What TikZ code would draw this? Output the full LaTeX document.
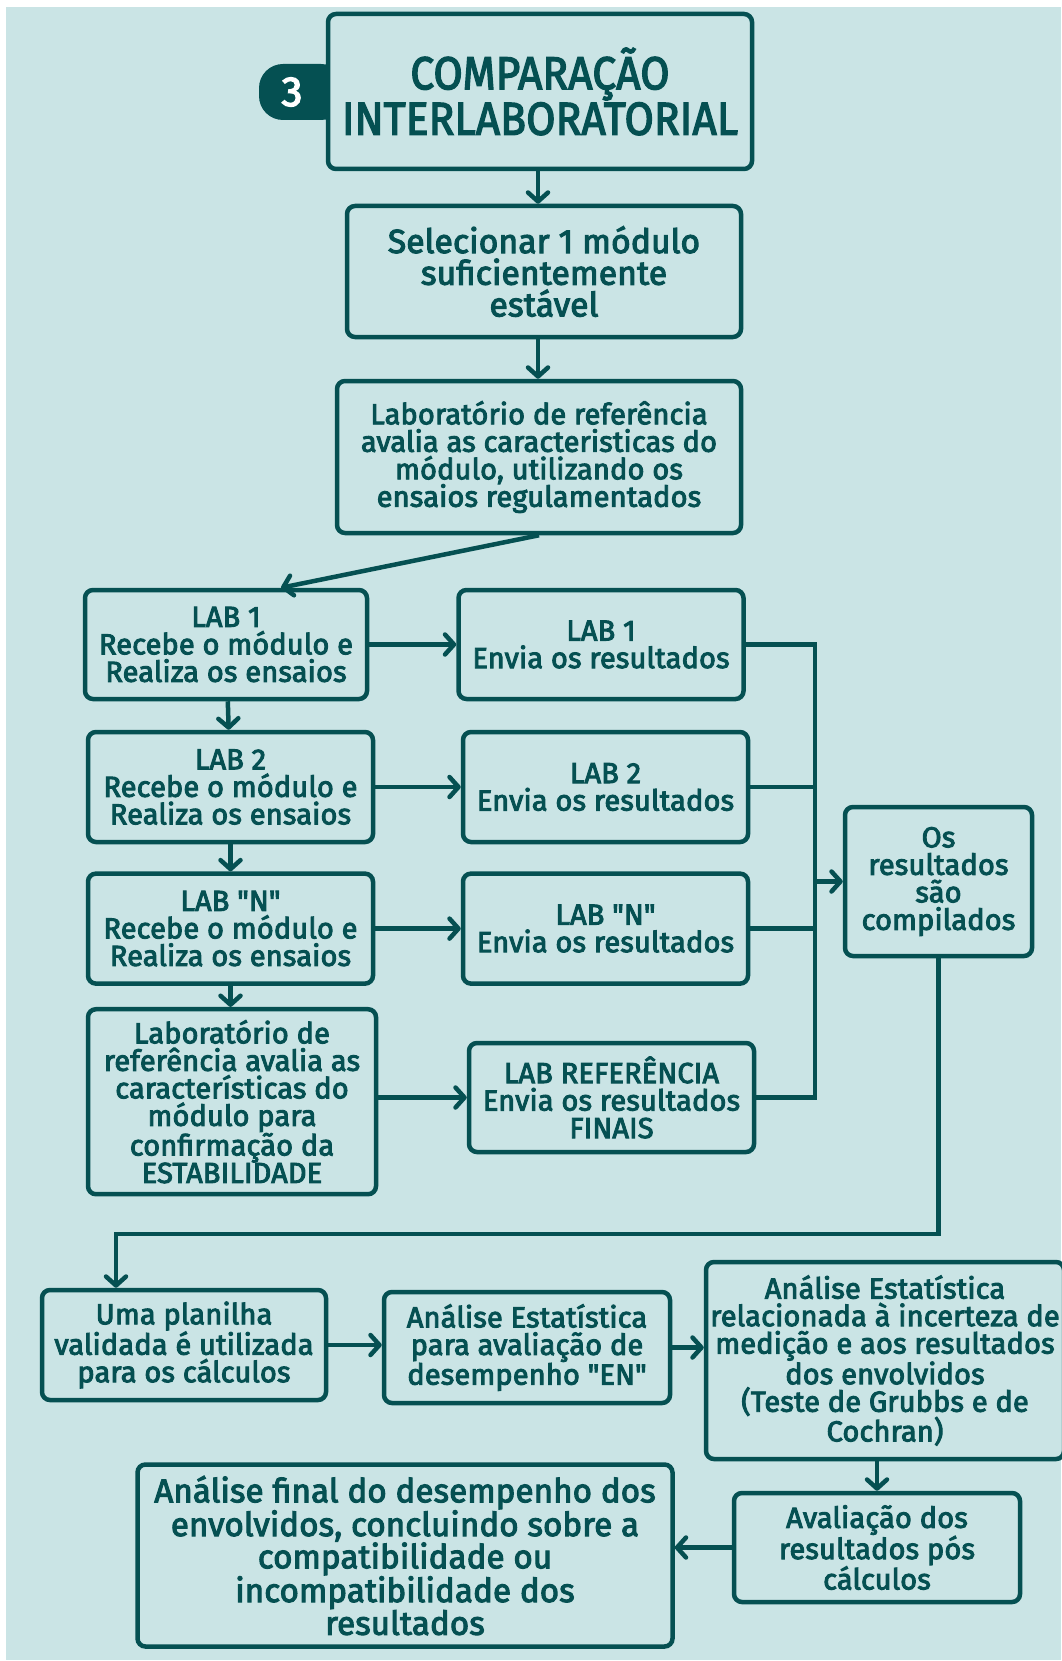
\documentclass[tikz,border=0pt]{standalone}
\usepackage{fontspec}
\setmainfont{Fira Sans}[Ligatures=TeXOff, BoldFont={Fira Sans}, BoldFeatures={FakeBold=3.2, LetterSpace=0.5}]
\usetikzlibrary{arrows.meta}
\definecolor{bgc}{RGB}{202,228,229}
\definecolor{dk}{RGB}{5,80,82}
\tikzset{
  box/.style={draw=dk, line width=4.5pt, rounded corners=8pt, fill=bgc,
    align=center, inner sep=0pt, text=dk,
    font=\fontsize{29}{27.5}\selectfont\bfseries},
  bigtext/.style={font=\fontsize{33.5}{31.7}\selectfont\bfseries},
  link/.style={draw=dk, line width=4.5pt},
  arr/.style={link, -{Straight Barb[length=9pt,width=20pt,line cap=round,line join=round]}},
}
\begin{document}
\begin{tikzpicture}[x=1pt,y=-1pt]
\useasboundingbox (0,0) rectangle (1061,1661);
\fill[white] (0,0) rectangle (1061,1661);
\fill[bgc] (6,7) rectangle (1061,1660);

% badge with the step number
\fill[dk, rounded corners=24pt] (259,64) rectangle (345,120);
\node[text=white, font=\fontsize{42}{42}\selectfont\bfseries] (num) at (292,92) {3};

% title
\node[box, minimum width=424pt, minimum height=155pt,
  font=\fontsize{46}{45.5}\selectfont\bfseries] (title) at (540,91.5)
  {\scalebox{0.92}[1]{COMPARAÇÃO}\\\scalebox{0.92}[1]{INTERLABORATORIAL}};

\node[box, bigtext, minimum width=394pt, minimum height=131pt] (sel) at (544,271.5)
  {Selecionar 1 módulo\\suficientemente\\estável};
\node[box, minimum width=404pt, minimum height=152pt] (ref3) at (539,457)
  {Laboratório de referência\\avalia as caracteristicas do\\módulo, utilizando os\\ensaios regulamentados};

% laboratories
\node[box, minimum width=282pt, minimum height=109pt] (lab1) at (226,644.5)
  {LAB 1\\Recebe o módulo e\\Realiza os ensaios};
\node[box, minimum width=285pt, minimum height=109pt] (lab1e) at (601,644.5)
  {LAB 1\\Envia os resultados};
\node[box, minimum width=285pt, minimum height=110pt] (lab2) at (230.5,787)
  {LAB 2\\Recebe o módulo e\\Realiza os ensaios};
\node[box, minimum width=285pt, minimum height=110pt] (lab2e) at (605.5,787)
  {LAB 2\\Envia os resultados};
\node[box, minimum width=285pt, minimum height=110pt] (labn) at (230.5,928.6)
  {LAB "N"\\Recebe o módulo e\\Realiza os ensaios};
\node[box, minimum width=285pt, minimum height=110pt] (labne) at (605.5,928.6)
  {LAB "N"\\Envia os resultados};
\node[box, minimum width=288pt, minimum height=185pt] (refs) at (232,1101.7)
  {Laboratório de\\referência avalia as\\características do\\módulo para\\confirmação da\\ESTABILIDADE};
\node[box, minimum width=285pt, minimum height=109pt] (refe) at (611.5,1097.5)
  {LAB REFERÊNCIA\\Envia os resultados\\FINAIS};
\node[box, minimum width=187pt, minimum height=149pt] (comp) at (938.5,881.5)
  {Os\\resultados\\são\\compilados};

% analysis
\node[box, minimum width=284pt, minimum height=110pt] (plan) at (184,1345)
  {Uma planilha\\validada é utilizada\\para os cálculos};
\node[box, minimum width=286pt, minimum height=111pt] (en) at (527,1347.5)
  {Análise Estatística\\para avaliação de\\desempenho "EN"};
\node[box, minimum width=358pt, minimum height=197pt] (est) at (885,1360.5)
  {Análise Estatística\\relacionada à incerteza de\\medição e aos resultados\\dos envolvidos\\(Teste de Grubbs e de\\Cochran)};
\node[box, minimum width=286pt, minimum height=109pt] (aval) at (877,1547.5)
  {Avaliação dos\\resultados pós\\cálculos};
\node[box, font=\fontsize{33}{30.7}\selectfont\bfseries, minimum width=535pt, minimum height=182pt] (final) at (405,1555.5)
  {Análise final do desempenho dos\\envolvidos, concluindo sobre a\\compatibilidade ou\\incompatibilidade dos\\resultados};

% connectors
\coordinate (jx) at (815,0);
\coordinate (bend) at (116,1234);
\draw[arr] (title.south -| 538,0) -- (sel.north -| 538,0);
\draw[arr] (sel.south -| 538,0) -- (ref3.north -| 538,0);
\draw[arr] (ref3.south) -- ([xshift=55pt]lab1.north);
\draw[arr] (lab1) -- (lab2);
\draw[arr] (lab2.south) -- (lab2.south |- labn.north);
\draw[arr] (labn.south) -- (labn.south |- refs.north);
\draw[arr] (lab1.east) -- (lab1e.west);
\draw[arr] (lab2.east) -- (lab2e.west);
\draw[arr] (labn.east) -- (labne.west);
\draw[arr] (refs.east |- refe.west) -- (refe.west);
\draw[link] (lab1e.east) -- (lab1e.east -| jx) -- (refe.east -| jx) -- (refe.east);
\draw[link] (lab2e.east) -- (lab2e.east -| jx);
\draw[link] (labne.east) -- (labne.east -| jx);
\draw[arr] (jx |- comp.west) -- (comp.west);
\draw[arr] (comp.south) |- (bend) -- (bend |- plan.north);
\draw[arr] (plan.east) -- (plan.east -| en.west);
\draw[arr] (en.east) -- (en.east -| est.west);
\draw[arr] (aval.north |- est.south) -- (aval.north);
\draw[arr] (aval.west) -- (aval.west -| final.east);
\end{tikzpicture}
\end{document}
